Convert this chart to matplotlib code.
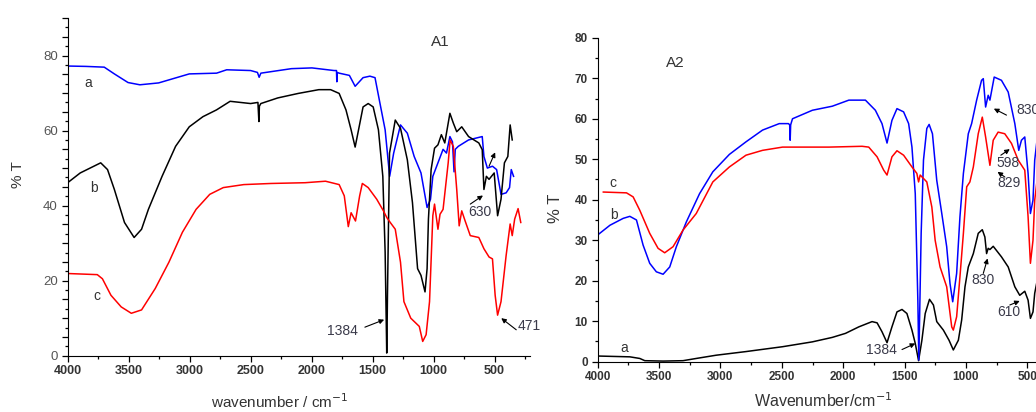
import matplotlib.pyplot as plt
from matplotlib.ticker import MultipleLocator, FuncFormatter

plt.rcParams['font.family'] = ['Liberation Sans', 'DejaVu Sans']

# ---- panel A1 ----
wn_a1 = [4000, 3850, 3700, 3617, 3505, 3408, 3254, 3003, 2779, 2696, 2500, 2444, 2430, 2416,
         2165, 1997, 1816, 1796, 1793, 1790, 1774, 1690, 1643, 1578, 1522, 1480, 1439, 1397,
         1360, 1327, 1271, 1215, 1159, 1103, 1053, 1025, 1006, 964, 922, 894, 866, 845, 832,
         822, 797, 713, 601, 587, 559, 517, 483, 447, 405, 377, 363, 344]
t_a1 = [77.2, 77.1, 76.9, 75.1, 72.8, 72.2, 72.7, 75.1, 75.3, 76.2, 76.0, 75.5, 74.2, 75.3,
        76.5, 76.7, 76.0, 76.0, 73.0, 75.5, 75.3, 74.7, 71.8, 74.1, 74.5, 74.1, 67.2, 60.2,
        47.8, 54, 61.5, 59.3, 53.1, 48.7, 39.5, 41.7, 47.8, 51.4, 55, 54, 58.4, 57, 49,
        55, 55.8, 57.5, 58.4, 53.1, 50, 50.5, 49.6, 43, 43.4, 44.8, 49.6, 47.8]

wn_b1 = [4000, 3897, 3729, 3673, 3617, 3534, 3455, 3394, 3338, 3226, 3115, 3003, 2891, 2780,
         2668, 2500, 2440, 2432, 2428, 2416, 2277, 2109, 1941, 1844, 1774, 1718, 1676, 1643,
         1615, 1578, 1536, 1495, 1452, 1416, 1397, 1386, 1384, 1380, 1378, 1361, 1314, 1271,
         1215, 1173, 1131, 1103, 1070, 1053, 1042, 1020, 992, 964, 936, 908, 866, 838, 810,
         769, 713, 629, 601, 587, 567, 545, 503, 475, 447, 419, 391, 372, 355]
t_b1 = [46.1, 48.7, 51.4, 49.6, 44.3, 35.5, 31.5, 33.7, 39, 47.8, 55.8, 61, 63.7, 65.5,
        67.8, 67.2, 67.5, 62.4, 66.5, 67.2, 68.7, 69.9, 70.9, 70.9, 69.9, 65.5, 60.2, 55.6,
        60.2, 66.3, 67.2, 66.3, 60.2, 47.8, 27.6, 5, 0.7, 10, 16, 54, 62.8, 60.6,
        52.2, 40.8, 23.2, 21.4, 17, 23.2, 36.4, 49.6, 55.3, 56.2, 58.9, 56.7, 64.6, 62, 59.7,
        61, 58.4, 56.7, 54.9, 44.3, 47.8, 47, 48.7, 37.3, 41.7, 51.4, 53.1, 61.5, 57.5]

wn_c1 = [4000, 3757, 3715, 3645, 3561, 3478, 3394, 3282, 3170, 3059, 2947, 2835, 2724, 2556,
         2332, 2053, 1886, 1774, 1732, 1699, 1676, 1640, 1606, 1584, 1536, 1466, 1411, 1383,
         1355, 1314, 1271, 1243, 1187, 1117, 1089, 1061, 1033, 1006, 992, 964, 947, 922, 880,
         864, 838, 810, 790, 769, 741, 699, 629, 587, 545, 517, 495, 475, 447, 405, 372, 355,
         335, 307, 285]
t_c1 = [21.9, 21.6, 20.5, 16.1, 13, 11.3, 12.2, 17.9, 24.9, 32.9, 39, 43, 44.8, 45.6,
        45.9, 46.1, 46.5, 45.6, 42.6, 34.4, 38.1, 35.9, 42.6, 45.9, 44.8, 41.7, 38.6, 36.8,
        35.5, 33.7, 24.9, 14.4, 10, 7.8, 3.8, 5.6, 14.4, 37.3, 40.4, 33.7, 37.7, 39, 51.4,
        57.5, 55.8, 44.3, 34.6, 38.6, 35.9, 32, 31.5, 28.5, 26.3, 25.8, 16.1, 10.8, 14.4, 26.7,
        35.1, 32, 36.4, 39.2, 35.5]

# ---- panel A2 ----
wn_a2 = [4000, 3738, 3657, 3616, 3467, 3305, 3197, 3035, 2792, 2494, 2251, 2089, 1981, 1873,
         1765, 1724, 1684, 1643, 1603, 1562, 1521, 1481, 1440, 1413, 1386, 1359, 1332, 1297,
         1265, 1238, 1184, 1138, 1103, 1062, 1035, 1008, 981, 940, 900, 867, 846, 832, 819,
         805, 778, 711, 656, 602, 562, 521, 494, 475, 454, 440, 420]
t_a2 = [1.4, 1.2, 0.8, 0.25, 0.15, 0.25, 0.8, 1.6, 2.5, 3.7, 4.9, 6, 7, 8.6,
        9.9, 9.6, 7.4, 4.7, 8.6, 12.3, 12.9, 11.9, 7.8, 4.5, 0.25, 5.3, 11.9, 15.4,
        14, 9.9, 7.8, 5.3, 2.9, 5.3, 10.3, 18.5, 23.4, 26.7, 31.7, 32.6, 30.8, 26.7, 28,
        27.7, 28.5, 25.9, 23.4, 18.5, 16.4, 17.4, 15.2, 10.7, 12.3, 16.9, 20]

wn_b2 = [4000, 3900, 3792, 3738, 3684, 3630, 3576, 3522, 3467, 3413, 3359, 3278, 3170, 3062,
         2927, 2792, 2657, 2521, 2446, 2436, 2432, 2428, 2413, 2251, 2089, 1954, 1819, 1738,
         1684, 1643, 1603, 1562, 1508, 1467, 1440, 1413, 1392, 1384, 1365, 1346, 1319, 1300,
         1273, 1238, 1197, 1157, 1130, 1108, 1076, 1049, 1021, 981, 954, 913, 873, 859, 840,
         819, 805, 770, 711, 656, 602, 570, 548, 521, 494, 475, 454, 440, 420]
t_b2 = [31.3, 33.7, 35.4, 35.9, 35, 28.8, 24.3, 22.2, 21.6, 23.4, 28.4, 34.5, 41.5, 46.9,
        51.2, 54.3, 57.2, 58.8, 58.8, 58.5, 54.7, 58.5, 60, 62.1, 63.1, 64.6, 64.6, 62.1,
        58.8, 54, 59.6, 62.5, 61.7, 58.8, 53, 41.5, 15.2, 0.4, 31.7, 49.8, 57.6, 58.6,
        56.3, 44.8, 36.6, 28.4, 19.3, 14.8, 21.8, 35.8, 46.5, 56.3, 58.8, 64.6, 69.5, 69.9, 62.9,
        65.8, 64.6, 70.3, 69.5, 66.6, 58.8, 52.2, 54.7, 55.5, 46.5, 36.6, 39.9, 49.8, 55]

wn_c2 = [3954, 3765, 3711, 3657, 3576, 3508, 3454, 3386, 3305, 3197, 3062, 2927, 2792, 2657,
         2494, 2116, 1846, 1792, 1724, 1670, 1643, 1603, 1562, 1508, 1440, 1400, 1386, 1373,
         1319, 1278, 1251, 1211, 1157, 1116, 1103, 1076, 1049, 1021, 994, 968, 940, 900, 867,
         840, 805, 778, 738, 684, 629, 575, 521, 494, 475, 454, 440, 420]
t_c2 = [41.9, 41.7, 40.7, 37.4, 31.7, 28, 26.9, 28.4, 32.5, 36.6, 44.4, 48.1, 51, 52.2,
        53, 53, 53.2, 53, 50.6, 47.3, 46.1, 50.6, 52.1, 51, 48.1, 46.5, 44.4, 46.1,
        44.4, 38.2, 30, 23.4, 18.5, 8.6, 7.8, 11.1, 21, 31.7, 43.2, 44.4, 48.1, 56.3, 60.4,
        55.5, 48.5, 54.7, 56.7, 56.3, 53.9, 49.8, 47.3, 35.8, 24.3, 30, 39.9, 45]

# curve labels (text, wavenumber, %T)
labels_a1 = [("a", 3835, 72.8), ("b", 3785, 44.8), ("c", 3763, 15.9)]
labels_a2 = [("c", 3873, 44.2), ("b", 3868, 36.2), ("a", 3786, 3.3)]

# peak marks: text, text pos, text alignment, arrow tail, arrow head
marks_a1 = [("1384", (1746, 6.6), 'center', (1563, 7.6), (1405, 9.6)),
            ("630", (618, 38.3), 'center', (699, 40.4), (595, 42.7)),
            ("", None, 'center', (545, 50.5), (495, 54.2)),
            ("471", (308, 7.8), 'left', (322, 6.9), (445, 10.0))]
marks_a2 = [("830", (589, 62.1), 'left', (670, 60.9), (773, 62.5)),
            ("598", (656, 49.1), 'center', (716, 51.0), (643, 52.5)),
            ("829", (651, 44.2), 'center', (683, 45.6), (743, 46.9)),
            ("830", (859, 20.1), 'center', (859, 21.8), (824, 25.5)),
            ("610", (651, 12.2), 'center', (643, 14.0), (562, 15.0)),
            ("1384", (1692, 2.9), 'center', (1521, 3.0), (1413, 4.5))]

fig = plt.figure(figsize=(10.36, 4.12), dpi=100)
ax1 = fig.add_axes([0.0653, 0.1367, 0.4462, 0.8196])
ax2 = fig.add_axes([0.5769, 0.1221, 0.4266, 0.7862])

ax1.plot(wn_a1, t_a1, color='#0000ff', lw=1.1)
ax1.plot(wn_b1, t_b1, color='black', lw=1.1)
ax1.plot(wn_c1, t_c1, color='#ff0000', lw=1.1)

ax2.plot(wn_a2, t_a2, color='black', lw=1.1)
ax2.plot(wn_b2, t_b2, color='#0000ff', lw=1.1)
ax2.plot(wn_c2, t_c2, color='#ff0000', lw=1.1)

ax1.set_xlim(4000, 210)
ax1.set_ylim(0, 90)
ax2.set_xlim(4000, 400)
ax2.set_ylim(0, 80)

for ax in (ax1, ax2):
    ax.spines['top'].set_visible(False)
    ax.spines['right'].set_visible(False)
    ax.xaxis.set_major_locator(MultipleLocator(500))
    ax.xaxis.set_minor_locator(MultipleLocator(250))
    ax.tick_params(which='major', direction='out', length=4, width=0.9, pad=3)
    ax.tick_params(which='minor', direction='out', length=2.5, width=0.9)

ax1.yaxis.set_major_locator(MultipleLocator(5))
ax1.yaxis.set_minor_locator(MultipleLocator(2.5))
ax1.yaxis.set_major_formatter(FuncFormatter(lambda v, p: f"{v:.0f}" if v % 20 == 0 else ""))
ax2.yaxis.set_major_locator(MultipleLocator(10))
ax2.yaxis.set_minor_locator(MultipleLocator(5))

for lab in ax1.get_xticklabels():
    lab.set_fontsize(9)
    lab.set_fontweight('bold')
    lab.set_color('#333333')
for lab in ax1.get_yticklabels():
    lab.set_fontsize(9.5)
    lab.set_color('#555555')
for lab in ax2.get_xticklabels() + ax2.get_yticklabels():
    lab.set_fontsize(8.5)
    lab.set_fontweight('bold')
    lab.set_color('#333333')

for ax, labs in ((ax1, labels_a1), (ax2, labels_a2)):
    for s, x, y in labs:
        ax.text(x, y, s, fontsize=10, color='#333333', ha='center', va='center')

for ax, marks in ((ax1, marks_a1), (ax2, marks_a2)):
    for s, tpos, ha, tail, head in marks:
        ax.annotate('', xy=head, xytext=tail, annotation_clip=False,
                    arrowprops=dict(arrowstyle='-|>', color='black', lw=0.8,
                                    mutation_scale=7, shrinkA=0, shrinkB=0))
        if s:
            ax.text(tpos[0], tpos[1], s, fontsize=10, color='#3a3a4a', ha=ha,
                    va='center', clip_on=False)

fig.text(440 / 1036, 1 - 42 / 412, 'A1', fontsize=11, color='#333333', ha='center', va='center')
fig.text(675 / 1036, 1 - 63 / 412, 'A2', fontsize=11, color='#333333', ha='center', va='center')

fig.text(280 / 1036, 1 - 402 / 412, 'wavenumber / cm$^{-1}$', fontsize=11,
         color='#333333', ha='center', va='center')
fig.text(823 / 1036, 1 - 401 / 412, 'Wavenumber/cm$^{-1}$', fontsize=11.5,
         color='#333333', ha='center', va='center')
fig.text(18 / 1036, 1 - 175 / 412, '% T', fontsize=11, color='#333333',
         rotation=90, ha='center', va='center')
fig.text(555 / 1036, 1 - 208 / 412, '% T', fontsize=12, color='#333333',
         rotation=90, ha='center', va='center')

fig.savefig('out.png', dpi=100)
